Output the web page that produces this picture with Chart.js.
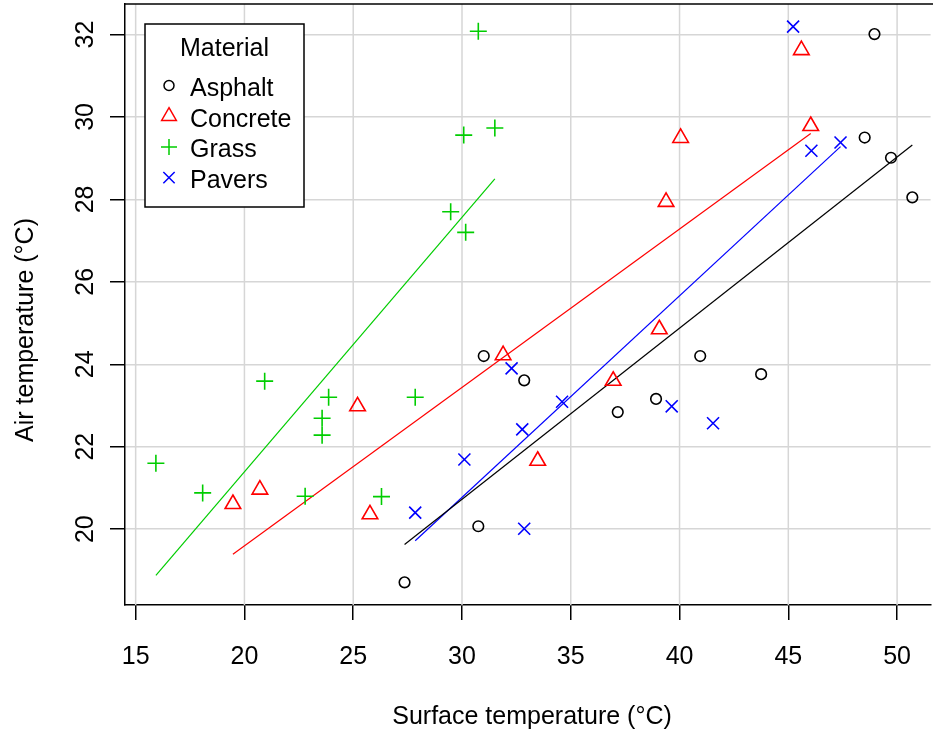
<!DOCTYPE html>
<html>
<head>
<meta charset="utf-8">
<title>Air vs surface temperature</title>
<script src="https://cdn.jsdelivr.net/npm/chart.js@4/dist/chart.umd.min.js"></script>
<style>
  body { margin: 0; background: #fff; }
  #wrap { width: 933px; height: 734px; }
</style>
</head>
<body>
<div id="wrap"><canvas id="chart" width="933" height="734"></canvas></div>
<script>
// Data
const materials = ["Asphalt", "Concrete", "Grass", "Pavers"];
const colors = ["#000000", "#ff0000", "#00cd00", "#0000ff"];
const pointStyles = ["circle", "triangle", "cross", "crossRot"];

const asphaltX = [48.96, 48.51, 49.72, 50.70, 31.0, 32.86, 30.75, 27.36, 40.95, 43.75, 38.92, 37.16];
const asphaltY = [32.01, 29.50, 29.01, 28.05, 24.20, 23.61, 20.07, 18.71, 24.20, 23.76, 23.16, 22.84];

const concreteX = [45.6, 46.03, 40.05, 39.38, 31.89, 25.20, 20.71, 19.47, 25.77, 39.07, 36.95, 33.48];
const concreteY = [31.62, 29.78, 29.49, 27.94, 24.22, 22.98, 20.96, 20.61, 20.36, 24.85, 23.60, 21.66];

const grassX = [30.75, 30.08, 31.51, 29.48, 30.17, 15.93, 18.08, 20.93, 23.87, 23.57, 23.57, 22.79, 27.85, 26.30];
const grassY = [32.08, 29.56, 29.73, 27.70, 27.20, 21.60, 20.88, 23.59, 23.20, 22.69, 22.28, 20.80, 23.20, 20.79];

const paversX = [45.22, 46.06, 47.40, 32.28, 32.77, 30.11, 27.85, 32.86, 34.60, 39.64, 41.54];
const paversY = [32.19, 29.18, 29.38, 23.90, 22.42, 21.69, 20.40, 20.01, 23.09, 22.98, 22.57];

// fitted lines, end points [x1, y1, x2, y2]
const asphaltFit = [27.36, 19.63, 50.70, 29.32];
const concreteFit = [19.47, 19.39, 46.03, 29.60];
const grassFit = [15.93, 18.88, 31.51, 28.50];
const paversFit = [27.85, 19.72, 47.40, 29.28];

const xTicks = [15, 20, 25, 30, 35, 40, 45, 50];
const yTicks = [20, 22, 24, 26, 28, 30, 32];
const xRange = [14.51, 51.54];
const yRange = [18.16, 32.74];

const xTitle = "Surface temperature (°C)";
const yTitle = "Air temperature (°C)";
const legendTitle = "Material";

const FONT = "'Liberation Sans', Arial, sans-serif";
const GRID = "#d6d6d6";

function toPoints(xs, ys) {
  return xs.map((x, i) => ({ x: x, y: ys[i] }));
}

const seriesX = [asphaltX, concreteX, grassX, paversX];
const seriesY = [asphaltY, concreteY, grassY, paversY];
const fits = [asphaltFit, concreteFit, grassFit, paversFit];

const datasets = [];
materials.forEach((m, i) => {
  datasets.push({
    label: m + " fit",
    data: [{ x: fits[i][0], y: fits[i][1] }, { x: fits[i][2], y: fits[i][3] }],
    showLine: true,
    borderColor: colors[i],
    borderWidth: 1.2,
    pointRadius: 0,
    order: 2,
  });
});
materials.forEach((m, i) => {
  datasets.push({
    label: m,
    data: toPoints(seriesX[i], seriesY[i]),
    pointStyle: pointStyles[i],
    pointRadius: i === 0 ? 5.3 : (i === 1 ? 9 : 8.5),
    pointBorderWidth: 1.6,
    pointBorderColor: colors[i],
    pointBackgroundColor: "rgba(0,0,0,0)",
    borderColor: colors[i],
    backgroundColor: "rgba(0,0,0,0)",
    order: 1,
  });
});

// legend symbol, drawn the same way as the plot markers
function drawSymbol(ctx, style, x, y, r) {
  ctx.beginPath();
  if (style === "circle") {
    ctx.arc(x, y, r, 0, Math.PI * 2);
  } else if (style === "triangle") {
    ctx.moveTo(x, y - r);
    ctx.lineTo(x + r * 0.866, y + r * 0.5);
    ctx.lineTo(x - r * 0.866, y + r * 0.5);
    ctx.closePath();
  } else if (style === "cross") {
    ctx.moveTo(x - r, y); ctx.lineTo(x + r, y);
    ctx.moveTo(x, y - r); ctx.lineTo(x, y + r);
  } else {
    const d = r * 0.7071;
    ctx.moveTo(x - d, y - d); ctx.lineTo(x + d, y + d);
    ctx.moveTo(x - d, y + d); ctx.lineTo(x + d, y - d);
  }
  ctx.stroke();
}

const decorPlugin = {
  id: "decor",
  beforeDatasetsDraw(chart) {
    // vertical grid lines at the x ticks
    const ctx = chart.ctx;
    const area = chart.chartArea;
    const xScale = chart.scales.x;
    ctx.save();
    ctx.strokeStyle = GRID;
    ctx.lineWidth = 1.5;
    xTicks.forEach((v) => {
      const px = xScale.getPixelForValue(v);
      ctx.beginPath();
      ctx.moveTo(px, area.top);
      ctx.lineTo(px, area.bottom);
      ctx.stroke();
    });
    ctx.restore();
  },
  afterDraw(chart) {
    const ctx = chart.ctx;
    const area = chart.chartArea;
    const yScale = chart.scales.y;
    ctx.save();

    // top edge of the box
    ctx.strokeStyle = "#000";
    ctx.lineWidth = 1.5;
    ctx.beginPath();
    ctx.moveTo(area.left, area.top);
    ctx.lineTo(chart.width, area.top);
    ctx.stroke();

    ctx.fillStyle = "#000";
    ctx.font = "25px " + FONT;

    // y tick labels, rotated like R
    ctx.textAlign = "center";
    ctx.textBaseline = "alphabetic";
    yScale.ticks.forEach((t) => {
      const py = yScale.getPixelForValue(t.value);
      ctx.save();
      ctx.translate(93, py);
      ctx.rotate(-Math.PI / 2);
      ctx.fillText(String(t.value), 0, 0);
      ctx.restore();
    });

    // axis titles
    ctx.fillText(xTitle, 532, 724);
    ctx.save();
    ctx.translate(32.5, 330);
    ctx.rotate(-Math.PI / 2);
    ctx.fillText(yTitle, 0, 0);
    ctx.restore();

    // legend
    const lx = 145, ly = 24, lw = 159, lh = 183;
    ctx.fillStyle = "#fff";
    ctx.fillRect(lx, ly, lw, lh);
    ctx.strokeStyle = "#000";
    ctx.lineWidth = 1.5;
    ctx.strokeRect(lx, ly, lw, lh);

    ctx.fillStyle = "#000";
    ctx.textAlign = "center";
    ctx.fillText(legendTitle, 224.5, 56);
    ctx.textAlign = "left";
    materials.forEach((m, i) => {
      const base = 96 + i * 30.7;
      ctx.fillStyle = "#000";
      ctx.fillText(m, 190, base);
      ctx.strokeStyle = colors[i];
      ctx.lineWidth = 1.5;
      const r = i === 0 ? 5 : (i === 1 ? 8.5 : 8);
      drawSymbol(ctx, pointStyles[i], 169, base - 10.5, r);
    });

    ctx.restore();
  },
};

Chart.defaults.font.family = FONT;
Chart.defaults.font.size = 25;
Chart.defaults.color = "#000";

new Chart(document.getElementById("chart"), {
  type: "scatter",
  data: { datasets: datasets },
  options: {
    responsive: false,
    devicePixelRatio: 1,
    animation: false,
    layout: { autoPadding: false, padding: { top: 4, right: 0, left: 0, bottom: 0 } },
    plugins: {
      legend: { display: false },
      tooltip: { enabled: false },
    },
    scales: {
      x: {
        type: "linear",
        min: xRange[0],
        max: xRange[1],
        afterBuildTicks: (scale) => {
          scale.ticks = xTicks.map((v) => ({ value: v }));
        },
        afterFit: (scale) => {
          scale.height = 129;
        },
        grid: {
          drawOnChartArea: false,
          color: GRID,
          lineWidth: 1.5,
          tickColor: "#000",
          tickWidth: 1.5,
          tickLength: 15,
        },
        border: { display: true, color: "#000", width: 1.5 },
        ticks: { padding: 22, maxRotation: 0, autoSkip: false, color: "#000" },
      },
      y: {
        type: "linear",
        min: yRange[0],
        max: yRange[1],
        afterBuildTicks: (scale) => {
          scale.ticks = yTicks.map((v) => ({ value: v }));
        },
        afterFit: (scale) => {
          scale.width = 125;
        },
        grid: {
          color: GRID,
          lineWidth: 1.5,
          tickColor: "#000",
          tickWidth: 1.5,
          tickLength: 15,
        },
        border: { display: true, color: "#000", width: 1.5 },
        ticks: { display: false },
      },
    },
  },
  plugins: [decorPlugin],
});
</script>
</body>
</html>
